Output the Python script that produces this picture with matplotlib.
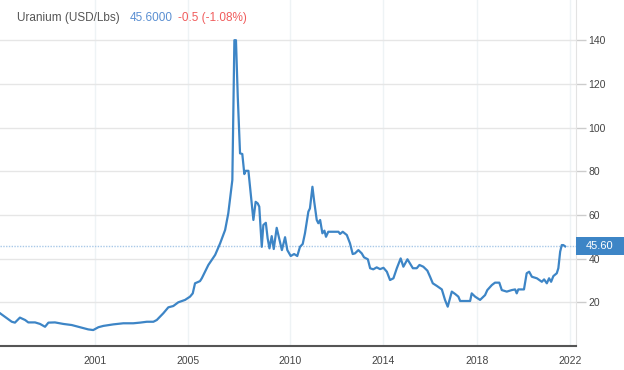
import matplotlib.pyplot as plt
from matplotlib.patches import Rectangle

plt.rcParams['font.family'] = ['Liberation Sans', 'DejaVu Sans']

# monthly-ish uranium spot price (decimal year, USD/lb)
years = [1996.80, 1997.32, 1997.46, 1997.68, 1997.91, 1998.05, 1998.35, 1998.57,
         1998.79, 1998.94, 1999.23, 1999.60, 1999.97, 2000.34, 2000.70, 2000.92,
         2001.15, 2001.37, 2001.81, 2002.25, 2002.69, 2002.99, 2003.29, 2003.58,
         2003.73, 2004.02, 2004.24, 2004.46, 2004.68, 2004.98, 2005.20, 2005.32,
         2005.42, 2005.64, 2005.72, 2006.01, 2006.31, 2006.53, 2006.75, 2006.89,
         2007.00, 2007.07, 2007.16, 2007.23, 2007.31, 2007.41, 2007.51, 2007.60,
         2007.66, 2007.78, 2007.88, 2008.00, 2008.10, 2008.19, 2008.26, 2008.37,
         2008.44, 2008.55, 2008.63, 2008.71, 2008.81, 2008.90, 2009.03, 2009.15,
         2009.26, 2009.40, 2009.50, 2009.65, 2009.80, 2009.94, 2010.06, 2010.18,
         2010.28, 2010.43, 2010.50, 2010.61, 2010.69, 2010.80, 2010.87, 2010.95,
         2011.05, 2011.14, 2011.21, 2011.31, 2011.53, 2011.76, 2011.83, 2011.95,
         2012.13, 2012.27, 2012.39, 2012.49, 2012.64, 2012.79, 2012.89, 2013.06,
         2013.16, 2013.30, 2013.45, 2013.60, 2013.75, 2013.90, 2014.04, 2014.19,
         2014.34, 2014.51, 2014.63, 2014.81, 2015.05, 2015.22, 2015.34, 2015.51,
         2015.69, 2015.81, 2015.93, 2016.11, 2016.33, 2016.47, 2016.59, 2016.69,
         2016.77, 2016.92, 2017.06, 2017.14, 2017.58, 2017.65, 2017.80, 2018.02,
         2018.24, 2018.34, 2018.54, 2018.68, 2018.87, 2018.98, 2019.20, 2019.42,
         2019.57, 2019.64, 2019.71, 2019.96, 2020.08, 2020.19, 2020.31, 2020.53,
         2020.75, 2020.85, 2020.97, 2021.07, 2021.16, 2021.26, 2021.41, 2021.48,
         2021.56, 2021.63, 2021.70, 2021.78]
price = [15.0, 11.1, 10.7, 13.0, 11.9, 10.8, 10.8, 10.1,
         8.8, 10.7, 10.8, 10.1, 9.6, 8.6, 7.6, 7.3,
         8.6, 9.2, 9.9, 10.4, 10.4, 10.7, 11.1, 11.1,
         11.9, 15.0, 17.7, 18.3, 20.0, 21.1, 22.6, 24.1,
         28.7, 29.7, 31.0, 37.1, 41.7, 47.0, 53.1, 60.7,
         69.9, 76.0, 140.0, 140.0, 114.0, 88.2, 87.9, 78.7,
         80.2, 80.2, 69.9, 57.7, 66.0, 65.3, 63.8, 45.4,
         55.4, 56.4, 49.3, 44.7, 50.3, 44.4, 54.1, 48.8,
         43.9, 49.8, 43.9, 41.2, 42.1, 41.2, 45.4, 46.7,
         51.6, 61.5, 63.0, 72.9, 66.0, 57.7, 56.2, 57.7,
         51.6, 52.8, 50.0, 52.3, 52.3, 52.3, 51.3, 52.3,
         50.8, 47.0, 42.1, 42.4, 43.9, 42.4, 40.6, 39.7,
         35.6, 35.1, 36.0, 35.2, 35.8, 34.0, 30.2, 31.0,
         35.6, 40.1, 36.3, 39.7, 35.6, 35.6, 37.1, 36.3,
         34.5, 31.7, 28.7, 27.5, 25.9, 21.1, 18.0, 21.8,
         24.9, 23.8, 22.6, 20.6, 20.6, 24.1, 22.6, 21.1,
         23.3, 25.6, 27.9, 29.0, 29.0, 25.6, 24.9, 25.6,
         25.9, 24.1, 25.9, 25.9, 33.3, 34.0, 31.7, 31.0,
         29.4, 30.5, 28.7, 31.0, 29.4, 32.0, 33.3, 35.6,
         43.2, 46.2, 46.2, 45.6]

last_price = 45.60
tick_labels = ['2001', '2005', '2010', '2014', '2018', '2022']
tick_pos = [2001.0, 2005.11, 2009.62, 2013.73, 2017.89, 2022.0]
y_ticks = [20, 40, 60, 80, 100, 120, 140]

line_color = '#3d85c6'

fig = plt.figure(figsize=(6.24, 3.7), dpi=100)
ax = fig.add_axes([0, 24 / 370, 576 / 624, 346 / 370])

ax.plot(years, price, color=line_color, lw=1.6, zorder=3)
ax.axhline(last_price, color='#a9c9e8', lw=1, ls=(0, (1, 1)), zorder=2)

ax.set_xlim(1996.80, 2022.26)
ax.set_ylim(0, 158.4)

ax.set_xticks(tick_pos, tick_labels)
ax.set_yticks(y_ticks)
ax.yaxis.tick_right()
ax.tick_params(axis='x', length=0, pad=7, labelsize=7.5, labelcolor='#444444')
ax.tick_params(axis='y', length=7, width=1, color='#cccccc', pad=2,
               labelsize=7.5, labelcolor='#444444')

ax.grid(axis='y', color='#e6e6e6', lw=1, zorder=0)
ax.grid(axis='x', color='#eef3f5', lw=1, zorder=0)

for side in ['top', 'left']:
    ax.spines[side].set_visible(False)
ax.spines['right'].set_color('#e3e3e3')
ax.spines['bottom'].set_color('#555555')
ax.spines['bottom'].set_linewidth(1.5)

# current value tag on the right axis (box spans to the figure edge)
tag_w = 48 / 576
tag_h = 18 * 158.4 / 346
ax.add_patch(Rectangle((1.0, last_price - tag_h / 2), tag_w, tag_h,
                       transform=ax.get_yaxis_transform(), fc=line_color, ec='none',
                       clip_on=False, zorder=5))
ax.text(1.0 + tag_w / 2, last_price, f'{last_price:.2f}', transform=ax.get_yaxis_transform(),
        ha='center', va='center', color='white', fontsize=8, clip_on=False, zorder=6)

# header
fig.text(17 / 624, 1 - 18 / 370, 'Uranium (USD/Lbs)', color='#555555', fontsize=8.5, va='center')
fig.text(130 / 624, 1 - 18 / 370, '45.6000', color='#5a8fd2', fontsize=8.5, va='center')
fig.text(178 / 624, 1 - 18 / 370, '-0.5 (-1.08%)', color='#f05c5c', fontsize=8.5, va='center')

fig.savefig('out.png', dpi=100)
